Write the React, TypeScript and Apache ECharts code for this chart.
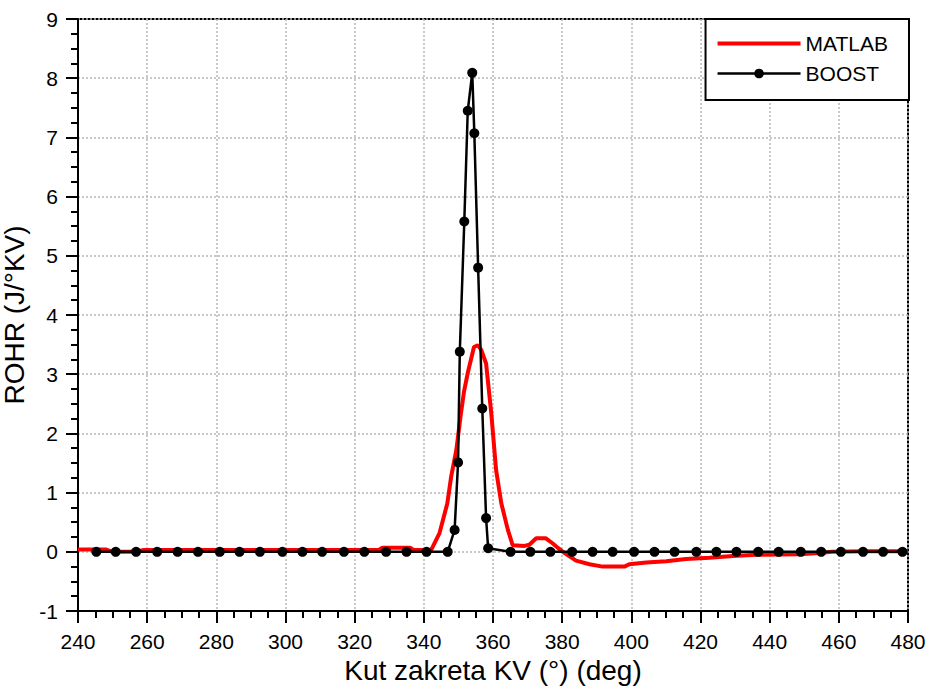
import React, { useEffect, useRef } from "react";
import * as echarts from "echarts";

// MATLAB curve (crank angle, ROHR)
const matlabX = [240, 248, 250, 257, 259, 327, 328, 336, 337, 342.1, 344.5, 346.8, 347.9, 349.4, 350.6, 351.6, 352.7, 354.5, 355.6, 356.6, 358.0, 359.5, 360.9, 362.4, 364.3, 365.7, 369.1, 370.5, 372.5, 375.2, 377.3, 378.7, 380.2, 384.0, 387.9, 391.7, 398.0, 399.4, 404.3, 410.1, 415.8, 422.6, 429.3, 436.1, 448.6, 454.4, 458.0, 468.0, 480];
const matlabY = [0.04, 0.04, 0.0, 0.0, 0.03, 0.03, 0.07, 0.07, 0.03, 0.03, 0.31, 0.82, 1.27, 1.72, 2.28, 2.70, 3.02, 3.46, 3.49, 3.41, 3.18, 2.34, 1.38, 0.82, 0.37, 0.11, 0.10, 0.12, 0.23, 0.23, 0.14, 0.07, 0.0, -0.15, -0.21, -0.25, -0.25, -0.21, -0.18, -0.16, -0.12, -0.10, -0.07, -0.05, -0.04, -0.02, 0.0, 0.01, 0.01];

// BOOST curve
const boostX = [245.3, 250.9, 256.8, 262.9, 268.8, 274.7, 281.0, 286.7, 292.6, 299.1, 304.9, 310.6, 316.9, 322.8, 329.1, 335.0, 340.8, 346.9, 348.9, 349.9, 350.4, 351.7, 352.7, 354.0, 354.6, 355.7, 356.9, 358.0, 358.6, 365.1, 370.8, 376.6, 382.9, 388.8, 394.6, 400.8, 406.7, 412.5, 418.8, 424.6, 430.4, 436.7, 442.6, 449.0, 454.9, 460.6, 467.0, 472.8, 478.4];
const boostY = [0, 0, 0, 0, 0, 0, 0, 0, 0, 0, 0, 0, 0, 0, 0, 0, 0, 0, 0.37, 1.51, 3.38, 5.58, 7.45, 8.09, 7.07, 4.80, 2.42, 0.57, 0.06, 0, 0, 0, 0, 0, 0, 0, 0, 0, 0, 0, 0, 0, 0, 0, 0, 0, 0, 0, 0];

const seriesNames = ["MATLAB", "BOOST"];
const xTitle = "Kut zakreta KV (°) (deg)";
const yTitle = "ROHR (J/°KV)";

const FONT = '"Liberation Sans", Arial, Helvetica, sans-serif';

export default function App() {
  const ref = useRef<HTMLDivElement>(null);

  useEffect(() => {
    if (!ref.current) return;
    const chart = echarts.init(ref.current, null, { renderer: "svg" });
    const matlabData = matlabX.map((x, i) => [x, matlabY[i]]);
    const boostData = boostX.map((x, i) => [x, boostY[i]]);

    const splitLine = {
      show: true,
      lineStyle: { color: "#b8b8b8", width: 1.5, type: [2, 2] as any },
    };
    const tick = { show: true, inside: false, length: 12, lineStyle: { color: "#000", width: 2 } };
    const minor = { show: true, splitNumber: 4, length: 7, lineStyle: { color: "#000", width: 2 } };

    chart.setOption({
      animation: false,
      backgroundColor: "#fff",
      textStyle: { fontFamily: FONT },
      grid: {
        left: 78,
        right: 19,
        top: 19,
        bottom: 75,
        containLabel: false,
        outerBoundsMode: "none",
        show: true,
        borderColor: "#000",
        borderWidth: 2,
        backgroundColor: "transparent",
      },
      legend: {
        orient: "vertical",
        right: 18,
        top: 19,
        padding: [14, 21, 16, 10],
        itemWidth: 83,
        itemHeight: 12,
        itemGap: 9,
        borderColor: "#000",
        borderWidth: 2,
        backgroundColor: "#fff",
        borderRadius: 0,
        textStyle: { fontSize: 21, color: "#000", fontFamily: FONT },
        data: [
          { name: seriesNames[0], itemStyle: { opacity: 0 }, lineStyle: { width: 4, color: "#ff0000" } },
          { name: seriesNames[1], lineStyle: { width: 2.5, color: "#000" } },
        ],
      },
      xAxis: {
        type: "value",
        min: 240,
        max: 480,
        interval: 20,
        position: "bottom",
        name: xTitle,
        nameLocation: "middle",
        nameGap: 45,
        nameTextStyle: { fontSize: 28, color: "#000", fontFamily: FONT },
        axisLine: { show: true, onZero: false, lineStyle: { color: "#000", width: 2 } },
        axisTick: tick,
        minorTick: minor,
        axisLabel: { fontSize: 21, color: "#000", margin: 20, fontFamily: FONT },
        splitLine,
      },
      yAxis: {
        type: "value",
        min: -1,
        max: 9,
        interval: 1,
        name: yTitle,
        nameLocation: "middle",
        nameGap: 36,
        nameRotate: 90,
        nameTextStyle: { fontSize: 28, color: "#000", fontFamily: FONT },
        axisLine: { show: true, onZero: false, lineStyle: { color: "#000", width: 2 } },
        axisTick: tick,
        minorTick: minor,
        axisLabel: { fontSize: 21, color: "#000", margin: 20, fontFamily: FONT },
        splitLine,
      },
      series: [
        {
          name: seriesNames[0],
          type: "line",
          data: matlabData,
          showSymbol: false,
          symbol: "none",
          lineStyle: { color: "#ff0000", width: 4 },
          itemStyle: { color: "#ff0000" },
          z: 2,
        },
        {
          name: seriesNames[1],
          type: "line",
          data: boostData,
          symbol: "circle",
          symbolSize: 10,
          showAllSymbol: true,
          lineStyle: { color: "#000", width: 2.5 },
          itemStyle: { color: "#000" },
          z: 3,
        },
      ],
    });

    return () => chart.dispose();
  }, []);

  return (
    <div
      ref={ref}
      style={{ position: "fixed", left: 0, top: 0, width: 927, height: 686, background: "#fff" }}
    />
  );
}
